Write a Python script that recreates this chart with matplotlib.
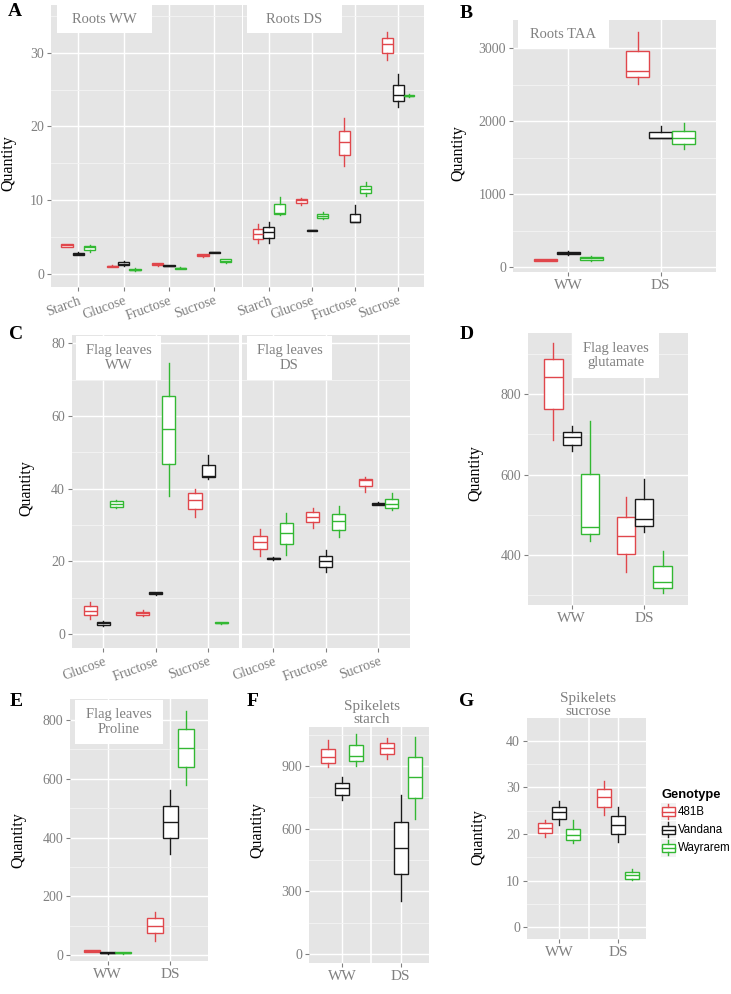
import matplotlib
matplotlib.use('Agg')
import matplotlib.pyplot as plt
from matplotlib.patches import Rectangle
from matplotlib.legend_handler import HandlerBase
from matplotlib.lines import Line2D
import numpy as np

plt.rcParams['font.family'] = ['Liberation Serif', 'DejaVu Serif']

W, H = 731, 994
genotypes = ['481B', 'Vandana', 'Wayrarem']
colors = {'481B': '#E0474C', 'Vandana': '#1a1a1a', 'Wayrarem': '#33B833'}

sugars4 = ['Starch', 'Glucose', 'Fructose', 'Sucrose']
sugars3 = ['Glucose', 'Fructose', 'Sucrose']
conditions = ['WW', 'DS']

# each box: [whisker low, Q1, median, Q3, whisker high]
roots_ww = {
    '481B': [[3.6, 3.7, 3.85, 4.0, 4.1], [0.85, 0.9, 1.0, 1.1, 1.15], [1.1, 1.2, 1.3, 1.45, 1.5], [2.3, 2.35, 2.5, 2.65, 2.7]],
    'Vandana': [[2.5, 2.6, 2.7, 2.8, 2.9], [1.0, 1.15, 1.35, 1.55, 1.7], [1.0, 1.05, 1.1, 1.15, 1.2], [2.8, 2.85, 2.9, 2.95, 3.0]],
    'Wayrarem': [[3.0, 3.25, 3.6, 3.8, 3.95], [0.4, 0.45, 0.55, 0.7, 0.75], [0.6, 0.65, 0.72, 0.8, 0.85], [1.5, 1.55, 1.75, 2.0, 2.05]],
}
roots_ds = {
    '481B': [[4.17, 4.76, 5.43, 6.07, 6.8], [9.33, 9.65, 9.96, 10.2, 10.35], [14.6, 16.17, 17.84, 19.43, 21.1], [29.0, 30.0, 31.2, 32.0, 32.9]],
    'Vandana': [[4.17, 4.85, 5.66, 6.3, 6.97], [5.8, 5.85, 5.89, 5.93, 5.95], [6.97, 6.97, 6.97, 8.15, 9.28], [22.7, 23.46, 24.27, 25.7, 27.1]],
    'Wayrarem': [[8.0, 8.1, 8.24, 9.47, 10.4], [7.4, 7.52, 7.88, 8.15, 8.4], [10.5, 10.96, 11.46, 11.87, 12.4], [24.0, 24.1, 24.2, 24.3, 24.4]],
}
roots_taa = {
    '481B': [[90, 92, 100, 108, 110], [2507, 2603, 2694, 2963, 3228]],
    'Vandana': [[170, 185, 200, 215, 230], [1767, 1767, 1767, 1858, 1936]],
    'Wayrarem': [[90, 100, 123, 145, 160], [1625, 1685, 1767, 1872, 1972]],
}
flag_ww = {
    '481B': [[4.03, 5.13, 6.42, 7.7, 8.8], [4.9, 5.13, 5.68, 6.05, 6.5], [32.1, 34.3, 37.0, 38.7, 40.0]],
    'Vandana': [[2.2, 2.5, 2.93, 3.3, 3.6], [10.7, 10.9, 11.2, 11.5, 11.6], [42.8, 43.3, 43.5, 46.5, 49.2]],
    'Wayrarem': [[34.6, 35.0, 35.75, 36.6, 37.0], [38.0, 46.9, 56.3, 65.5, 74.7], [2.8, 2.9, 3.1, 3.3, 3.4]],
}
flag_ds = {
    '481B': [[21.45, 23.4, 25.2, 27.1, 28.9], [29.3, 30.8, 32.1, 33.6, 34.6], [39.05, 40.7, 42.5, 42.8, 43.2]],
    'Vandana': [[20.5, 20.6, 20.8, 21.0, 21.1], [17.1, 18.5, 20.0, 21.45, 23.1], [35.5, 35.6, 35.9, 36.1, 36.2]],
    'Wayrarem': [[21.7, 24.7, 27.7, 30.6, 33.4], [26.8, 28.6, 31.0, 33.0, 35.2], [34.1, 34.65, 35.9, 37.2, 38.7]],
}
glutamate = {
    '481B': [[686, 764, 844, 887, 929], [358, 402, 448, 495, 543]],
    'Vandana': [[660, 674, 693, 706, 721], [458, 472, 489, 540, 588]],
    'Wayrarem': [[435, 451, 469, 602, 734], [304, 318, 333, 372, 410]],
}
proline = {
    '481B': [[9, 10, 13.4, 16, 17], [49, 73.6, 99, 124.6, 147]],
    'Vandana': [[5, 6, 7.7, 9, 10], [343, 397, 454, 508, 562]],
    'Wayrarem': [[5, 6, 7.7, 9, 10], [579, 641, 706, 768, 832]],
}
spk_starch = {
    '481B': [[897, 913, 941, 983, 1024], [934, 956, 988, 1008, 1032]],
    'Vandana': [[737, 761, 796, 820, 849], [255, 383, 509, 634, 761]],
    'Wayrarem': [[900, 922, 948, 1002, 1053], [646, 745, 846, 941, 1037]],
}
spk_sucrose = {
    '481B': [[19.3, 20.3, 21.25, 22.3, 23.0], [24.0, 25.9, 27.9, 29.7, 31.4]],
    'Vandana': [[21.9, 23.2, 24.7, 25.9, 27.1], [18.2, 20.0, 22.0, 23.9, 25.8]],
    'Wayrarem': [[18.0, 18.7, 19.7, 21.2, 23.0], [10.2, 10.4, 11.15, 11.8, 12.6]],
}

GREY = '#808080'
YTICK_FS = 10
XTICK_FS = 11
ROT_FS = 10
fig = plt.figure(figsize=(W / 100, H / 100), dpi=100)


def make_ax(l, t, r, b):
    ax = fig.add_axes([l / W, 1 - b / H, (r - l) / W, (b - t) / H])
    ax.set_facecolor('#E5E5E5')
    for s in ax.spines.values():
        s.set_visible(False)
    ax.set_axisbelow(True)
    ax.tick_params(colors=GREY, length=3, width=0.8, labelsize=YTICK_FS, pad=2)
    ax.tick_params(which='minor', length=0)
    ax.grid(which='major', color='white', lw=1.0)
    ax.grid(which='minor', axis='y', color='#F4F4F4', lw=0.6)
    ax._px = (l, t, r, b)
    return ax


def draw_boxes(ax, data, ncat, dodge=0.25):
    for gi, g in enumerate(genotypes):
        c = colors[g]
        stats = [dict(whislo=v[0], q1=v[1], med=v[2], q3=v[3], whishi=v[4]) for v in data[g]]
        pos = np.arange(1, ncat + 1) + (gi - 1) * dodge
        ax.bxp(stats, positions=pos, widths=dodge, patch_artist=True, showfliers=False,
               showcaps=False, manage_ticks=False,
               boxprops=dict(facecolor='white', edgecolor=c, linewidth=1.0),
               medianprops=dict(color=c, linewidth=1.0),
               whiskerprops=dict(color=c, linewidth=1.0))


def strip(ax, box, text):
    l, t, r, b = ax._px
    x0, y0, x1, y1 = box
    ax.add_patch(Rectangle(((x0 - l) / (r - l), (b - y1) / (b - t)), (x1 - x0) / (r - l),
                           (y1 - y0) / (b - t), transform=ax.transAxes, facecolor='white',
                           edgecolor='none', zorder=1.5, clip_on=False))
    ax.text(((x0 + x1) / 2 - l) / (r - l), (b - (y0 + y1) / 2) / (b - t), text,
            transform=ax.transAxes, ha='center', va='center', color=GREY, fontsize=10.5,
            zorder=1.6, linespacing=1.12)


def setup_y(ax, lim, major, minor, labels=True):
    ax.set_ylim(*lim)
    ax.set_yticks(major)
    ax.set_yticks(minor, minor=True)
    if not labels:
        ax.tick_params(axis='y', which='both', length=0, labelleft=False)


def qty(x, y):
    fig.text(x / W, 1 - y / H, 'Quantity', rotation=90, ha='center', va='center',
             fontsize=11.5, color='black')


def letter(x, y, s):
    fig.text(x / W, 1 - y / H, s, ha='center', va='center', fontsize=14,
             fontweight='bold', color='black')


# ---------- Panel A ----------
axA1 = make_ax(51, 5, 241.5, 287)
axA2 = make_ax(243, 5, 424, 287)
for ax, d in [(axA1, roots_ww), (axA2, roots_ds)]:
    draw_boxes(ax, d, 4)
    ax.set_xlim(0.4, 4.6)
    setup_y(ax, (-1.8, 36.5), [0, 10, 20, 30], [5, 15, 25, 35], labels=(ax is axA1))
    ax.set_xticks(range(1, 5))
    ax.set_xticklabels(sugars4, rotation=20, ha='right', rotation_mode='anchor', fontsize=ROT_FS)
strip(axA1, (57, 5, 152, 33), 'Roots WW')
strip(axA2, (247, 5, 342, 33), 'Roots DS')
qty(8, 163)
letter(15, 12, 'A')

# ---------- Panel B ----------
axB = make_ax(513, 20, 716, 272)
draw_boxes(axB, roots_taa, 2)
axB.set_xlim(0.4, 2.6)
setup_y(axB, (-64, 3388), [0, 1000, 2000, 3000], [500, 1500, 2500])
axB.set_xticks([1, 2])
axB.set_xticklabels(conditions, fontsize=XTICK_FS)
strip(axB, (518, 20, 609, 48), 'Roots TAA')
qty(458, 153)
letter(466, 14, 'B')

# ---------- Panel C ----------
axC1 = make_ax(72, 335, 239.5, 648)
axC2 = make_ax(241.5, 335, 410, 648)
for ax, d in [(axC1, flag_ww), (axC2, flag_ds)]:
    draw_boxes(ax, d, 3)
    ax.set_xlim(0.4, 3.6)
    setup_y(ax, (-3.85, 82.3), [0, 20, 40, 60, 80], [10, 30, 50, 70], labels=(ax is axC1))
    ax.set_xticks(range(1, 4))
    ax.set_xticklabels(sugars3, rotation=20, ha='right', rotation_mode='anchor', fontsize=ROT_FS)
strip(axC1, (76, 336, 161, 380), 'Flag leaves\nWW')
strip(axC2, (247, 336, 332, 380), 'Flag leaves\nDS')
qty(26, 488)
letter(16, 335, 'C')

# ---------- Panel D ----------
axD = make_ax(528, 333, 688, 605)
draw_boxes(axD, glutamate, 2)
axD.set_xlim(0.4, 2.6)
setup_y(axD, (275, 953), [400, 600, 800], [300, 500, 700, 900])
axD.set_xticks([1, 2])
axD.set_xticklabels(conditions, fontsize=XTICK_FS)
strip(axD, (572, 333, 659, 378), 'Flag leaves\nglutamate')
qty(475, 473)
letter(467, 335, 'D')

# ---------- Panel E ----------
axE = make_ax(70, 699, 208, 961)
draw_boxes(axE, proline, 2)
axE.set_xlim(0.4, 2.6)
setup_y(axE, (-20.4, 871.5), [0, 200, 400, 600, 800], [100, 300, 500, 700])
axE.set_xticks([1, 2])
axE.set_xticklabels(conditions, fontsize=XTICK_FS)
strip(axE, (75, 700, 163, 744), 'Flag leaves\nProline')
qty(18, 840)
letter(16, 702, 'E')

# ---------- Panel F ----------
axF = make_ax(309, 727, 429, 963)
draw_boxes(axF, spk_starch, 2, dodge=0.24)
axF.set_xlim(0.44, 2.48)
setup_y(axF, (-43, 1087), [0, 300, 600, 900], [150, 450, 750, 1050])
axF.axvline(1.5, color='white', lw=1.2, zorder=0.6)
axF.set_xticks([1, 2])
axF.set_xticklabels(conditions, fontsize=XTICK_FS)
fig.text(372 / W, 1 - 713 / H, 'Spikelets\nstarch', ha='center', va='center', color=GREY,
         fontsize=11, zorder=-1, linespacing=1.0)
qty(257, 830)
letter(253, 702, 'F')

# ---------- Panel G ----------
axG = make_ax(527, 718, 646, 939)
draw_boxes(axG, spk_sucrose, 2, dodge=0.24)
axG.set_xlim(0.46, 2.47)
setup_y(axG, (-2.5, 44.9), [0, 10, 20, 30, 40], [5, 15, 25, 35])
axG.axvline(1.5, color='white', lw=1.2, zorder=0.6)
axG.set_xticks([1, 2])
axG.set_xticklabels(conditions, fontsize=XTICK_FS)
fig.text(588 / W, 1 - 705 / H, 'Spikelets\nsucrose', ha='center', va='center', color=GREY,
         fontsize=11, zorder=-1, linespacing=1.0)
qty(478, 837)
letter(467, 702, 'G')


# ---------- Legend ----------
class BoxHandler(HandlerBase):
    def create_artists(self, legend, orig, xd, yd, w, h, fs, trans):
        c = orig.get_edgecolor()
        x0, y0 = -xd, -yd
        bg = Rectangle((x0 - 1, y0 - 1), w + 2, h + 2, facecolor='#F2F2F2', edgecolor='none',
                       transform=trans)
        r = Rectangle((x0, y0 + 0.22 * h), w, 0.56 * h, facecolor='white', edgecolor=c,
                      lw=1.0, transform=trans)
        m = Line2D([x0, x0 + w], [y0 + 0.5 * h] * 2, color=c, lw=1.0, transform=trans)
        w1 = Line2D([x0 + w / 2] * 2, [y0, y0 + 0.22 * h], color=c, lw=1.0, transform=trans)
        w2 = Line2D([x0 + w / 2] * 2, [y0 + 0.78 * h, y0 + h], color=c, lw=1.0, transform=trans)
        return [bg, r, m, w1, w2]


handles = [Rectangle((0, 0), 1, 1, facecolor='white', edgecolor=colors[g]) for g in genotypes]
fig.legend(handles, genotypes, handler_map={Rectangle: BoxHandler()}, title='Genotype',
           loc='upper left', bbox_to_anchor=(662 / W, 1 - 789 / H), frameon=False,
           prop=dict(family='Liberation Sans', size=8.3),
           title_fontproperties=dict(family='Liberation Sans', weight='bold', size=9.3),
           alignment='left', handlelength=1.1, handleheight=1.6, labelspacing=0.28,
           handletextpad=0.25, borderaxespad=0, borderpad=0)

fig.savefig('out.png', dpi=100)
